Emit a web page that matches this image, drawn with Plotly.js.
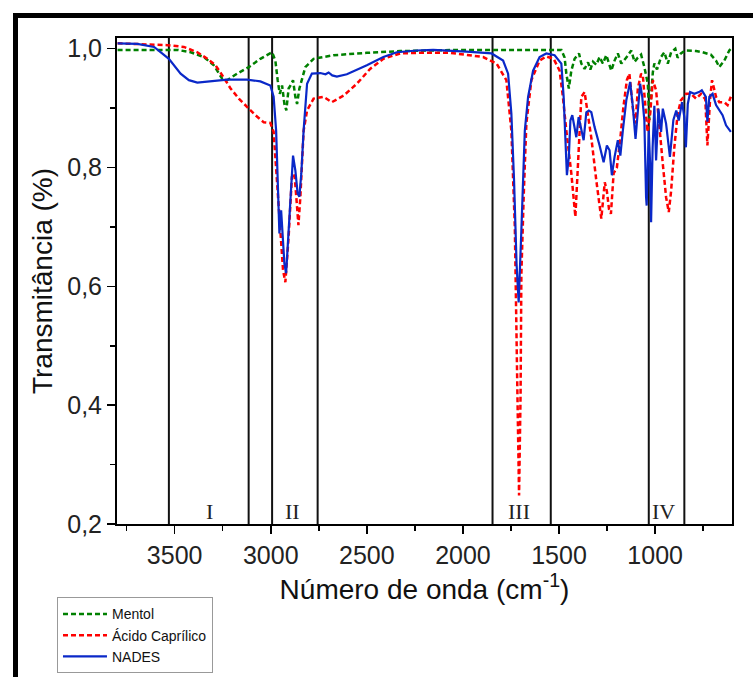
<!DOCTYPE html>
<html>
<head>
<meta charset="utf-8">
<script src="https://cdn.plot.ly/plotly-3.0.1.min.js"></script>
<style>
  html, body { margin: 0; padding: 0; background: #fff; }
  #wrap { position: relative; width: 753px; height: 677px; overflow: hidden; }
  #chart { position: absolute; left: 0; top: 0; width: 753px; height: 677px; }
  #frame { position: absolute; left: 13px; top: 13px; right: -10px; bottom: -10px;
           border-left: 5px solid #000; border-top: 5px solid #000; pointer-events: none; }
</style>
</head>
<body>
<div id="wrap">
  <div id="chart"></div>
  <div id="frame"></div>
</div>
<script>
// ---- Data ----
const mentolX = [3797,3625,3486,3417,3348,3296,3252,3227,3175,3114,3054,2993,2976,2964,2953,2941,2929,2919,2907,2894,2884,2872,2863,2851,2841,2820,2777,2673,2500,2327,2000,1700,1488,1471,1462,1449,1436,1419,1396,1384,1367,1349,1337,1323,1306,1289,1272,1254,1240,1228,1211,1194,1176,1150,1124,1107,1090,1073,1056,1038,1030,1021,1012,1004,990,969,952,934,917,895,883,866,844,787,753,710,683,666,640,614,600];
const mentolT = [0.998,0.998,0.998,0.994,0.986,0.972,0.949,0.947,0.958,0.969,0.983,0.994,0.980,0.947,0.924,0.938,0.907,0.896,0.933,0.940,0.947,0.919,0.907,0.933,0.945,0.969,0.983,0.989,0.993,0.996,0.998,0.998,0.998,0.985,0.958,0.933,0.963,0.983,0.992,0.975,0.966,0.977,0.965,0.978,0.973,0.986,0.975,0.989,0.975,0.963,0.980,0.992,0.975,0.985,0.997,0.978,0.985,0.990,0.969,0.941,0.880,0.930,0.960,0.975,0.965,0.986,0.994,0.975,0.994,1.000,0.985,0.992,0.997,0.996,0.994,0.990,0.980,0.969,0.980,0.997,1.002];

const acidoX = [3797,3659,3538,3452,3382,3330,3287,3252,3209,3166,3123,3080,3036,3002,2985,2967,2950,2936,2924,2907,2890,2877,2867,2856,2846,2829,2811,2777,2725,2682,2621,2552,2483,2414,2327,2240,2068,1895,1825,1774,1748,1730,1718,1708,1700,1696,1684,1670,1644,1601,1566,1528,1497,1480,1462,1436,1415,1402,1384,1367,1355,1332,1306,1280,1262,1251,1240,1230,1216,1199,1182,1165,1147,1134,1116,1102,1090,1073,1064,1050,1040,1026,1012,995,977,960,943,929,917,900,883,866,839,813,787,761,739,728,714,704,683,666,640,623,606];
const acidoT = [1.009,1.007,1.006,1.003,0.994,0.983,0.972,0.955,0.933,0.916,0.902,0.888,0.876,0.875,0.860,0.778,0.683,0.627,0.607,0.683,0.784,0.790,0.750,0.703,0.750,0.862,0.896,0.916,0.919,0.910,0.921,0.941,0.966,0.983,0.992,0.993,0.993,0.986,0.975,0.947,0.862,0.700,0.450,0.248,0.420,0.620,0.750,0.874,0.947,0.980,0.987,0.983,0.963,0.919,0.862,0.790,0.717,0.800,0.919,0.927,0.902,0.850,0.778,0.714,0.775,0.760,0.730,0.722,0.790,0.800,0.846,0.902,0.947,0.958,0.900,0.874,0.933,0.958,0.955,0.900,0.860,0.890,0.947,0.930,0.862,0.806,0.750,0.725,0.760,0.834,0.890,0.913,0.924,0.924,0.916,0.924,0.915,0.837,0.915,0.947,0.919,0.910,0.910,0.905,0.919];

const nadesX = [3797,3694,3607,3530,3469,3426,3382,3313,3227,3123,3054,3002,2985,2972,2962,2955,2946,2938,2929,2920,2907,2894,2884,2872,2860,2851,2841,2829,2811,2786,2742,2715,2699,2680,2656,2604,2500,2414,2344,2240,2155,1981,1851,1791,1765,1748,1734,1721,1710,1696,1678,1661,1635,1601,1566,1523,1488,1476,1467,1459,1449,1441,1431,1419,1410,1398,1384,1372,1358,1345,1332,1315,1289,1268,1251,1237,1225,1211,1194,1181,1168,1150,1130,1116,1102,1090,1078,1067,1056,1047,1044,1033,1026,1021,1013,1004,995,983,969,960,943,923,905,890,877,860,848,840,830,818,796,772,757,736,728,718,701,683,666,649,631,606];
const nadesT = [1.009,1.008,1.003,0.983,0.958,0.947,0.943,0.945,0.948,0.948,0.945,0.938,0.919,0.862,0.778,0.689,0.728,0.686,0.638,0.622,0.694,0.778,0.820,0.795,0.756,0.751,0.790,0.862,0.941,0.958,0.959,0.957,0.960,0.955,0.953,0.957,0.972,0.986,0.994,0.997,0.998,0.995,0.992,0.980,0.958,0.891,0.778,0.638,0.573,0.694,0.862,0.919,0.963,0.986,0.992,0.989,0.975,0.919,0.834,0.787,0.818,0.879,0.888,0.862,0.851,0.885,0.862,0.846,0.893,0.896,0.893,0.868,0.837,0.809,0.837,0.829,0.787,0.818,0.846,0.820,0.862,0.913,0.944,0.902,0.848,0.891,0.941,0.919,0.879,0.750,0.736,0.862,0.806,0.708,0.834,0.904,0.812,0.899,0.860,0.899,0.874,0.818,0.880,0.896,0.879,0.910,0.885,0.834,0.907,0.927,0.924,0.927,0.930,0.919,0.877,0.919,0.924,0.905,0.896,0.888,0.871,0.860];

const seriesNames = ['Mentol', 'Ácido Caprílico', 'NADES'];
const regionBounds = [3530, 3115, 2993, 2756, 1846, 1543, 1033, 848];
const regionLabels = ['I', 'II', 'III', 'IV'];
const regionLabelX = [3318, 2886, 1710, 957];
const xTitle = 'Número de onda (cm<sup>-1</sup>)';
const yTitle = 'Transmitância (%)';

// ---- Chart ----
const sans = 'Arial, "Liberation Sans", sans-serif';
const traces = [
  { x: mentolX, y: mentolT, name: seriesNames[0], type: 'scatter', mode: 'lines',
    line: { color: '#008000', width: 2.5, dash: '5px,3px' } },
  { x: acidoX, y: acidoT, name: seriesNames[1], type: 'scatter', mode: 'lines',
    line: { color: '#ff0000', width: 2.5, dash: '5px,3px' } },
  { x: nadesX, y: nadesT, name: seriesNames[2], type: 'scatter', mode: 'lines',
    line: { color: '#0a28c8', width: 2.2 } }
];

const shapes = regionBounds.map(v => ({
  type: 'line', xref: 'x', yref: 'paper', x0: v, x1: v, y0: 0, y1: 1,
  line: { color: '#111', width: 2 }, layer: 'below'
}));

const annotations = regionLabels.map((t, i) => ({
  x: regionLabelX[i], y: 0.2205, xref: 'x', yref: 'y', text: t, showarrow: false,
  font: { family: '"Liberation Serif", "Times New Roman", serif', size: 22, color: '#222' },
  xanchor: 'center', yanchor: 'middle'
}));

const layout = {
  width: 753, height: 677,
  margin: { l: 117, r: 21, t: 38, b: 153, pad: 0, autoexpand: false },
  paper_bgcolor: '#fff', plot_bgcolor: '#fff',
  separators: ', ',
  showlegend: true,
  font: { family: sans, color: '#222' },
  xaxis: {
    range: [3800, 600], dtick: 500, tick0: 0,
    showgrid: false, zeroline: false, automargin: false,
    showline: true, linecolor: '#000', linewidth: 2, mirror: true,
    ticks: 'outside', ticklen: 8, tickwidth: 1.5, tickcolor: '#000',
    minor: { dtick: 250, ticks: 'outside', ticklen: 5, tickwidth: 1.5, tickcolor: '#000', showgrid: false },
    tickfont: { family: sans, size: 25, color: '#222' },
    title: { text: xTitle, font: { family: sans, size: 28, color: '#111' }, standoff: 11 }
  },
  yaxis: {
    range: [0.2, 1.018], dtick: 0.2, tick0: 0.2, tickformat: '.1f',
    showgrid: false, zeroline: false, automargin: false,
    showline: true, linecolor: '#000', linewidth: 2, mirror: true,
    ticks: 'outside', ticklen: 8, tickwidth: 1.5, tickcolor: '#000',
    minor: { dtick: 0.1, ticks: 'outside', ticklen: 5, tickwidth: 1.5, tickcolor: '#000', showgrid: false },
    tickfont: { family: sans, size: 25, color: '#222' },
    title: { text: yTitle, font: { family: sans, size: 28, color: '#111' }, standoff: 6 }
  },
  legend: {
    x: -0.0976, y: -0.151, xanchor: 'left', yanchor: 'top',
    bgcolor: '#fff', bordercolor: '#999', borderwidth: 1,
    font: { family: sans, size: 14, color: '#111' },
    itemwidth: 44, tracegroupgap: 0
  },
  shapes: shapes,
  annotations: annotations
};

Plotly.newPlot('chart', traces, layout, { displayModeBar: false, staticPlot: true });
</script>
</body>
</html>
